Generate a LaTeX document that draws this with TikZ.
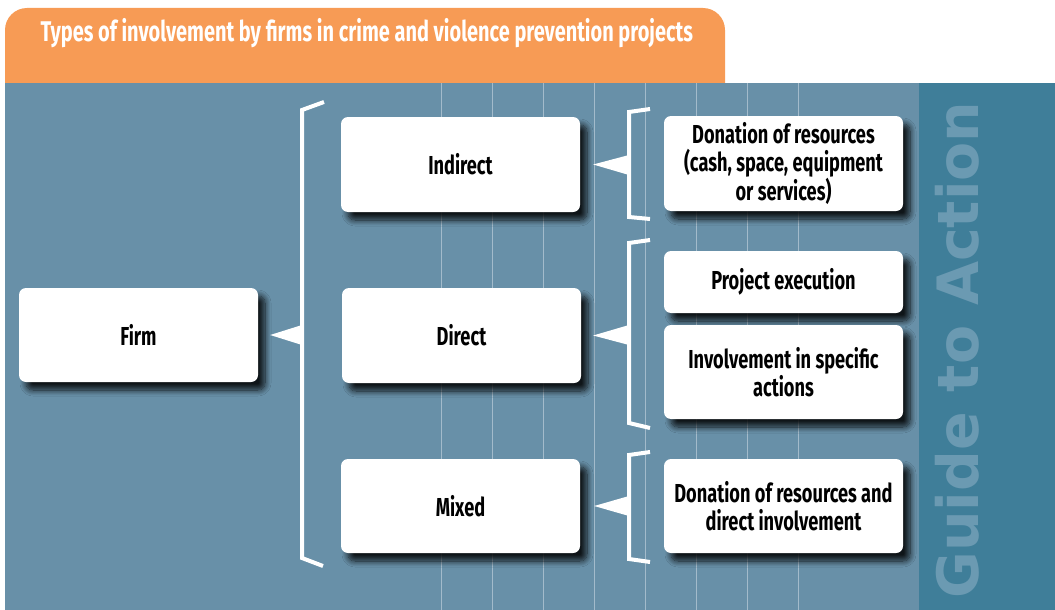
\documentclass[tikz,border=0pt]{standalone}
\usepackage{fontspec}
\setmainfont{Fira Sans}[FakeStretch=0.7]
\newfontfamily\guidefont{DejaVu Sans}
\usetikzlibrary{calc, shadows.blur}
\definecolor{panelblue}{HTML}{6890A8}
\definecolor{stripblue}{HTML}{3F7E99}
\definecolor{guideblue}{HTML}{6B9AB2}
\definecolor{taborange}{HTML}{F79B55}
\definecolor{gridline}{HTML}{A3BBCB}
\tikzset{
	box/.style={fill=white, rounded corners=7pt, minimum width=239pt, align=center,
		font=\bfseries\fontsize{26}{28.5}\selectfont,
		blur shadow={shadow xshift=7pt, shadow yshift=-8pt, shadow blur radius=6pt, shadow blur steps=10, shadow opacity=85}},
	brk/.style={draw=white, line width=4pt, line join=miter},
	ptr/.style={fill=white}
}

\begin{document}
\begin{tikzpicture}[x=1pt, y=-1pt]
		\useasboundingbox (0,0) rectangle (1055,610);

		% background
		\fill[taborange, rounded corners=22pt] (5,110) -- (5,8) -- (725,8) -- (725,110) -- cycle;
		\fill[panelblue] (5,83) rectangle (1055,610);
		\fill[stripblue] (919,83) rectangle (1055,610);
		\foreach \gx in {441,492,...,798}
			\draw[gridline, line width=0.8pt] (\gx,83) -- (\gx,610);

		\node[anchor=west, text=white, font=\bfseries\fontsize{28.5}{32}\selectfont] (title) at (37,33) {Types of involvement by firms in crime and violence prevention projects};
		\node[rotate=90, text=guideblue, font=\guidefont\bfseries\fontsize{57}{57}\selectfont] (guide) at (957,350) {Guide to Action};

		% boxes
		\node[style=box, minimum height=94pt] (firm) at (138.5,335) {Firm};
		\node[style=box, minimum height=95pt] (indirect) at (460.5,164.5) {Indirect};
		\node[style=box, minimum height=95pt] (direct) at (461.5,335.5) {Direct};
		\node[style=box, minimum height=94pt] (mixed) at (460.5,506) {Mixed};

		\node[style=box, minimum height=95pt] (donation) at (783.5,163.5) {Donation of resources\\(cash, space, equipment\\or services)};
		\node[style=box, minimum height=62pt] (execution) at (783.5,282) {Project execution};
		\node[style=box, minimum height=94pt] (actions) at (783.5,372) {Involvement in specific\\actions};
		\node[style=box, minimum height=94pt] (both) at (783.5,506) {Donation of resources and\\direct involvement};

		% brackets
		\draw[style=brk] (324,102) -- (302,110) -- (302,558) -- (323,566);
		\fill[style=ptr] ($(firm.east)+(12,0)$) -- (302,325) -- (302,345) -- cycle;

		\draw[style=brk] (650,109) -- (629,112) -- (629,217) -- (650,219);
		\fill[style=ptr] ($(indirect.east)+(13,0)$) -- (629,155) -- (629,175) -- cycle;

		\draw[style=brk] (650,240) -- (629,243) -- (629,423) -- (650,428);
		\fill[style=ptr] ($(direct.east)+(12,0)$) -- (629,325) -- (629,345) -- cycle;

		\draw[style=brk] (650,452) -- (629,455) -- (629,559) -- (650,562);
		\fill[style=ptr] ($(mixed.east)+(14,0)$) -- (629,496) -- (629,516) -- cycle;
\end{tikzpicture}
\end{document}
